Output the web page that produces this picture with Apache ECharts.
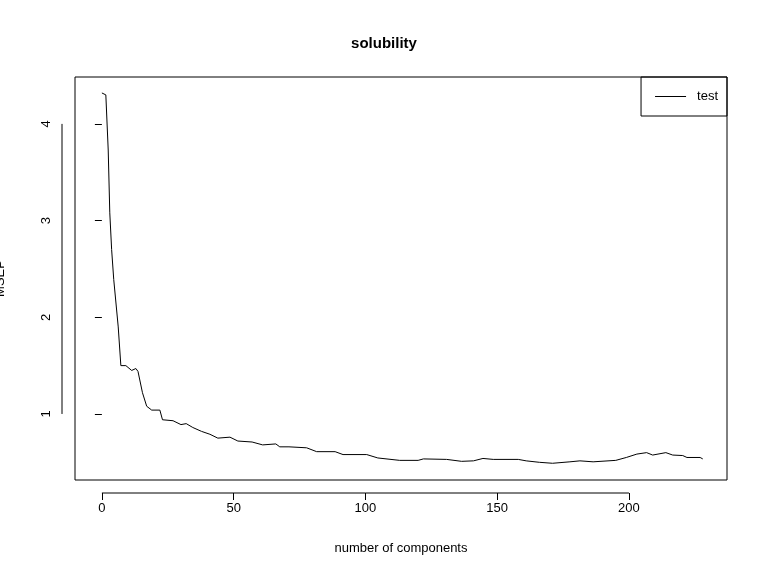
<!DOCTYPE html>
<html>
<head>
<meta charset="UTF-8">
<title>solubility</title>
<script src="https://cdn.jsdelivr.net/npm/echarts@6/dist/echarts.min.js"></script>
<style>body{margin:0;background:#fff}#chart{width:768px;height:576px}</style>
</head>
<body>
<div id="chart"></div>
<script>
// number of components vs MSEP
const comps = [0, 1.5, 2.4, 3, 3.7, 4.5, 6.2, 7.2, 9.1, 11.3, 12.9, 13.7, 15.4, 17, 18.9, 22, 23, 27, 30, 32, 34.5, 37.8, 41, 44, 48.6, 51.6, 57, 61, 66, 67.5, 71, 77.7, 81.5, 88.5, 91.5, 100.5, 104.7, 113, 120, 122, 130.8, 136.5, 141, 144.6, 148.5, 158, 161, 166, 171, 177.6, 181.4, 186.4, 195, 199, 203, 206.7, 209, 214, 216.6, 220.4, 222, 227, 228];
const msep = [4.32, 4.30, 3.73, 3.08, 2.70, 2.39, 1.90, 1.50, 1.50, 1.45, 1.47, 1.44, 1.22, 1.08, 1.04, 1.04, 0.94, 0.93, 0.89, 0.90, 0.86, 0.82, 0.79, 0.75, 0.76, 0.72, 0.71, 0.68, 0.69, 0.66, 0.66, 0.65, 0.61, 0.61, 0.58, 0.58, 0.545, 0.52, 0.52, 0.535, 0.53, 0.51, 0.515, 0.54, 0.53, 0.53, 0.515, 0.50, 0.49, 0.505, 0.515, 0.505, 0.52, 0.55, 0.585, 0.60, 0.575, 0.60, 0.575, 0.57, 0.55, 0.55, 0.535];
const xTicks = [0, 50, 100, 150, 200];
const yTicks = [1, 2, 3, 4];

const font = 'Liberation Sans, Arial, sans-serif';
const chart = echarts.init(document.getElementById('chart'));
chart.setOption({
    animation: false,
    title: {
        text: 'solubility', left: 'center', top: 31,
        textStyle: {fontFamily: font, fontSize: 15, fontWeight: 'bold', color: '#000'}
    },
    grid: {
        left: 75, right: 41, top: 77, bottom: 96, show: true,
        borderColor: '#000', borderWidth: 1, containLabel: false, outerBoundsMode: 'none'
    },
    legend: {
        right: 41, top: 77, orient: 'vertical',
        borderColor: '#000', borderWidth: 1, borderRadius: 0,
        padding: [13, 9, 13, 14], itemWidth: 31, itemHeight: 1, itemGap: 0,
        textStyle: {fontFamily: font, fontSize: 13, color: '#000', padding: [0, 0, 0, 6]},
        data: [{name: 'test', icon: 'rect'}]
    },
    xAxis: {
        type: 'value', min: -10.2, max: 237.2, offset: 13,
        name: 'number of components', nameLocation: 'middle', nameGap: 49,
        nameTextStyle: {fontFamily: font, fontSize: 13, color: '#000'},
        splitLine: {show: false},
        axisLine: {show: false},
        axisTick: {show: true, length: 7, customValues: xTicks, lineStyle: {color: '#000'}},
        axisLabel: {customValues: xTicks, margin: 9, fontFamily: font, fontSize: 13, color: '#000'}
    },
    yAxis: {
        type: 'value', min: 0.317, max: 4.485, offset: 13,
        name: 'MSEP', nameLocation: 'middle', nameGap: 55, nameRotate: 90,
        nameTextStyle: {fontFamily: font, fontSize: 13, color: '#000'},
        splitLine: {show: false},
        axisLine: {show: false},
        axisTick: {show: true, length: 7, customValues: yTicks, lineStyle: {color: '#000'}},
        axisLabel: {customValues: yTicks, rotate: 90, margin: 9, fontFamily: font, fontSize: 13, color: '#000'}
    },
    series: [{
        name: 'test', type: 'line', symbol: 'none',
        lineStyle: {color: '#000', width: 1}, itemStyle: {color: '#000'},
        data: comps.map((c, i) => [c, msep[i]])
    }]
});

// R style detached axis lines spanning first to last tick
const x0 = chart.convertToPixel({xAxisIndex: 0}, xTicks[0]);
const x1 = chart.convertToPixel({xAxisIndex: 0}, xTicks[xTicks.length - 1]);
const y0 = chart.convertToPixel({yAxisIndex: 0}, yTicks[0]);
const y1 = chart.convertToPixel({yAxisIndex: 0}, yTicks[yTicks.length - 1]);
chart.setOption({
    graphic: [
        {type: 'line', shape: {x1: x0, y1: 493, x2: x1, y2: 493}, style: {stroke: '#000', lineWidth: 1}},
        {type: 'line', shape: {x1: 62, y1: y0, x2: 62, y2: y1}, style: {stroke: '#000', lineWidth: 1}}
    ]
});
</script>
</body>
</html>
